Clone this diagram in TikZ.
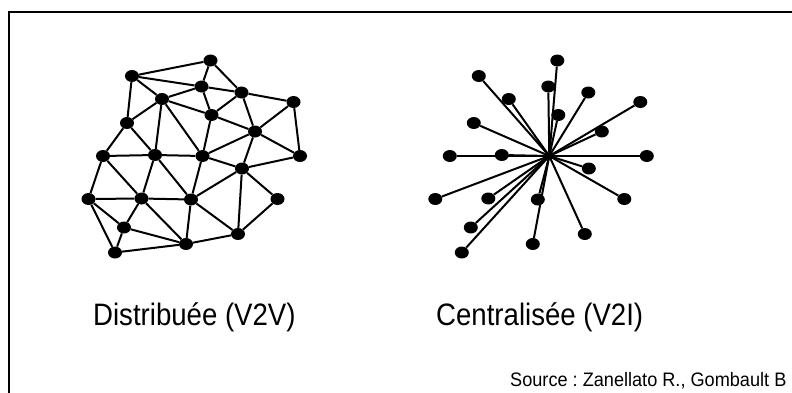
\documentclass[tikz,border=0pt]{standalone}
\usepackage{fontspec}
\setmainfont{Liberation Sans}
\newfontfamily\bigfont[FakeStretch=0.89]{Liberation Sans}
\newfontfamily\smallfont[FakeStretch=0.93]{Liberation Sans}
\usetikzlibrary{shapes.geometric}
\frenchspacing
\begin{document}
\begin{tikzpicture}[x=1pt,y=-1pt,
  dot/.style={ellipse,fill=black,draw=none,minimum width=14pt,minimum height=12pt,inner sep=0pt},
  hub/.style={ellipse,fill=black,draw=none,minimum width=8pt,minimum height=7pt,inner sep=0pt},
  edge/.style={line width=2pt,black},
  lbl/.style={anchor=base west,inner sep=0pt,font=\bigfont\fontsize{31}{36}\selectfont},
  src/.style={anchor=base west,inner sep=0pt,font=\smallfont\fontsize{19.5}{23}\selectfont\frenchspacing}]
\useasboundingbox (0,0) rectangle (792,392);
\fill[white] (0,0) rectangle (792,392);
% frame (continues past right and bottom edges)
\draw[line width=2pt] (9,420) -- (9,12) -- (820,12);
% node positions
\def\pts{1/210.5/60.5,2/132/76,3/201.5/86.5,4/241.5/92.5,5/293.5/102,6/162/99,7/211.5/115,8/127/123,9/255/131.5,10/103/156,11/155/155,13/300/156,14/242/168.5,15/88.5/199,16/141.5/198.5,17/191/199.5,18/277.5/199,19/124/227.5,20/238/234,21/186/244,22/115/252.5}
% mesh network
\foreach \i/\x/\y in \pts { \node[dot] (m\i) at (\x,\y) {}; }
\node[dot] (m12) at (202.5,156) {};
\foreach \a/\b in {1/2,1/3,1/4,2/3,2/6,2/8,3/6,3/4,3/7,4/7,4/9,4/5,5/9,5/13,6/7,6/8,6/11,6/12,7/9,7/12,8/10,8/11,9/12,9/13,9/14,10/11,10/15,10/16,11/12,11/16,11/17,12/17,12/14,13/14,14/17,14/18,14/20,15/16,15/19,15/22,16/17,16/19,16/21,17/21,17/20,18/20,19/21,19/22,21/22,20/21}
  { \draw[edge] (m\a) -- (m\b); }
% star network
\begin{scope}[xshift=346.8pt]
\node[hub] (s12) at (202.5,156) {};
\foreach \i/\x/\y in \pts { \node[dot] (s\i) at (\x,\y) {}; \draw[edge] (s\i) -- (s12.center); }
\end{scope}
% labels
\node[lbl] (t1) at (93,325) {Distribuée (V2V)};
\node[lbl] (t2) at (436,325) {Centralisée (V2I)};
\node[src] (t3) at (510,386.5) {Source : Zanellato R., Gombault B};
\end{tikzpicture}
\end{document}
